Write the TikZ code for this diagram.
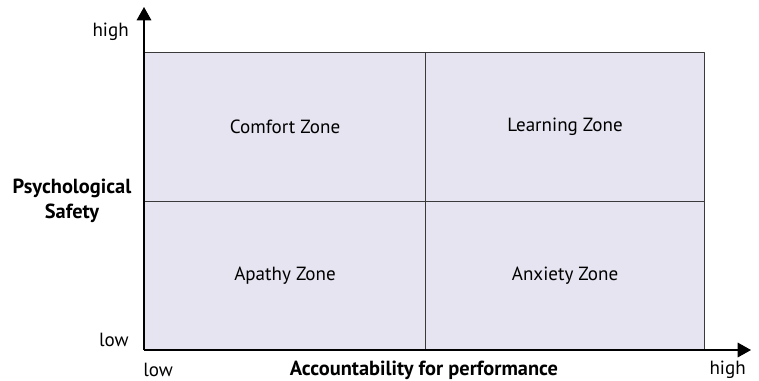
\documentclass[tikz,border=0pt]{standalone}
\usepackage{fontspec}
\setmainfont{PT Sans}
\usetikzlibrary{arrows.meta,positioning}
\definecolor{zonefill}{HTML}{E6E4F0}
\definecolor{zoneline}{HTML}{3A3A3A}
\begin{document}
\begin{tikzpicture}[x=0.75pt, y=-0.75pt, line join=round, font=\fontsize{14.3}{17}\selectfont,
		zone/.style={draw=zoneline, fill=zonefill, line width=0.8pt, minimum width=210.75pt, minimum height=111.75pt, inner sep=0pt, anchor=north west},
		tick/.style={inner sep=0pt},
		axislabel/.style={font=\fontsize{15.3}{18.5}\selectfont\bfseries}]
	\useasboundingbox (0,0) rectangle (759,380);
	% quadrants
	\node[zone] (comfort) at (144,52) {Comfort Zone};
	\node[zone, minimum width=209.25pt] (learning) at (425,52) {Learning Zone};
	\node[zone] (apathy) at (144,201) {Apathy Zone};
	\node[zone, minimum width=209.25pt] (anxiety) at (425,201) {Anxiety Zone};
	% axes
	\coordinate (o) at (144,350);
	\coordinate (ytip) at (144,7);
	\coordinate (xtip) at (751,350);
	\draw[line width=0.9pt, -{Triangle[length=10pt,width=11pt]}] (o) -- (ytip);
	\draw[line width=0.9pt, -{Triangle[length=10pt,width=11pt]}] (o) -- (xtip);
	% axis labels
	\node[tick, anchor=east] (yhigh) at (129,32) {high};
	\node[tick, anchor=east] (ylow) at (129,340) {low};
	\node[axislabel, align=center] (ylabel) at (72,201) {Psychological\\Safety};
	\node[tick, anchor=west] (xlow) at (143,370) {low};
	\node[axislabel] (xlabel) at (424,370) {Accountability for performance};
	\node[tick, anchor=east] (xhigh) at (746,370) {high};
\end{tikzpicture}
\end{document}
